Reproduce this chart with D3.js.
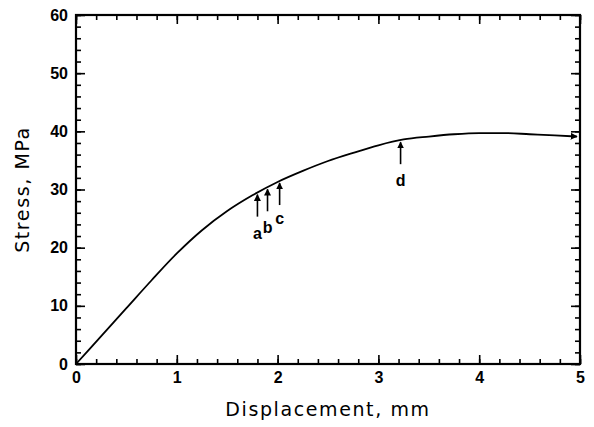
<!DOCTYPE html>
<html>
<head>
<meta charset="utf-8">
<script src="https://cdn.jsdelivr.net/npm/d3@7"></script>
<style>
  body { margin: 0; background: #fff; }
  .tick text { font-family: "Liberation Sans", Arial, sans-serif; font-size: 16px; font-weight: bold; fill: #000; }
  .axisTitle { font-family: "DejaVu Sans", sans-serif; font-size: 19px; letter-spacing: 1.6px; fill: #000; }
  .note { font-family: "Liberation Sans", Arial, sans-serif; font-size: 16px; font-weight: bold; fill: #000; }
</style>
</head>
<body>
<div id="chart"></div>
<script>
// curve
var displacement = [0, 0.25, 0.5, 0.75, 1.0, 1.25, 1.5, 1.75, 2.0, 2.25, 2.5, 2.75, 3.0, 3.25, 3.5, 3.75, 4.0, 4.25, 4.5, 4.75, 4.97];
var stress = [0, 4.8, 9.6, 14.4, 19.0, 23.0, 26.3, 29.0, 31.3, 33.2, 34.9, 36.3, 37.6, 38.6, 39.1, 39.5, 39.7, 39.7, 39.5, 39.3, 39.1];

// marked points a-d
var markLabels = ["a", "b", "c", "d"];
var markX = [1.8, 1.9, 2.02, 3.22];

var xTicks = [0, 1, 2, 3, 4, 5];
var yTicks = [0, 10, 20, 30, 40, 50, 60];

var svgWidth = 594;
var svgHeight = 427;

var margin = { top: 15, right: 14, bottom: 63, left: 76 };
var width = svgWidth - margin.left - margin.right;
var height = svgHeight - margin.top - margin.bottom;

var svg = d3.select("#chart")
  .append("svg")
  .attr("width", svgWidth)
  .attr("height", svgHeight);

svg.append("defs").append("marker")
  .attr("id", "head")
  .attr("viewBox", "0 0 10 10")
  .attr("refX", 9)
  .attr("refY", 5)
  .attr("markerWidth", 7)
  .attr("markerHeight", 7)
  .attr("markerUnits", "userSpaceOnUse")
  .attr("orient", "auto")
  .append("path")
  .attr("d", "M0,0 L10,5 L0,10 z")
  .attr("fill", "#000");

var chartGroup = svg.append("g")
  .attr("transform", `translate(${margin.left}, ${margin.top})`);

var x = d3.scaleLinear().domain([0, 5]).range([0, width]);
var y = d3.scaleLinear().domain([0, 60]).range([height, 0]);

var xMinor = d3.range(0, 5.001, 0.2);
var yMinor = d3.range(0, 60.001, 2);

// minor ticks all round
chartGroup.append("g").attr("transform", `translate(0, ${height})`)
  .call(d3.axisBottom(x).tickValues(xMinor).tickSize(-5).tickFormat(""));
chartGroup.append("g")
  .call(d3.axisTop(x).tickValues(xMinor).tickSize(-5).tickFormat(""));
chartGroup.append("g")
  .call(d3.axisLeft(y).tickValues(yMinor).tickSize(-5).tickFormat(""));
chartGroup.append("g").attr("transform", `translate(${width}, 0)`)
  .call(d3.axisRight(y).tickValues(yMinor).tickSize(-5).tickFormat(""));

// major ticks
chartGroup.append("g").attr("transform", `translate(0, ${height})`)
  .call(d3.axisBottom(x).tickValues(xTicks).tickSize(-9).tickPadding(8).tickFormat(d3.format("d")));
chartGroup.append("g")
  .call(d3.axisTop(x).tickValues(xTicks).tickSize(-9).tickFormat(""));
chartGroup.append("g")
  .call(d3.axisLeft(y).tickValues(yTicks).tickSize(-9).tickPadding(8).tickFormat(d3.format("d")));
chartGroup.append("g").attr("transform", `translate(${width}, 0)`)
  .call(d3.axisRight(y).tickValues(yTicks).tickSize(-9).tickFormat(""));

chartGroup.selectAll(".domain").remove();
chartGroup.selectAll(".tick line").attr("stroke", "#000").attr("stroke-width", 1.6);

// frame
chartGroup.append("rect")
  .attr("width", width)
  .attr("height", height)
  .attr("fill", "none")
  .attr("stroke", "#000")
  .attr("stroke-width", 2.2);

// curve
var pts = displacement.map(function(d, i) { return [d, stress[i]]; });
var line = d3.line()
  .x(d => x(d[0]))
  .y(d => y(d[1]))
  .curve(d3.curveMonotoneX);

chartGroup.append("path")
  .datum(pts)
  .attr("d", line)
  .attr("fill", "none")
  .attr("stroke", "#000")
  .attr("stroke-width", 1.8)
  .attr("marker-end", "url(#head)");

// arrows a-d pointing up to the curve
var interp = d3.scaleLinear().domain(displacement).range(stress);
var labelGap = [22, 22, 19, 22];

markX.forEach(function(m, i) {
  var top = y(interp(m)) + 2;
  chartGroup.append("line")
    .attr("x1", x(m)).attr("x2", x(m))
    .attr("y1", top + 22).attr("y2", top)
    .attr("stroke", "#000")
    .attr("stroke-width", 1.6)
    .attr("marker-end", "url(#head)");
  chartGroup.append("text")
    .attr("class", "note")
    .attr("x", x(m))
    .attr("y", top + 22 + labelGap[i])
    .attr("text-anchor", "middle")
    .text(markLabels[i]);
});

// axis titles
chartGroup.append("text")
  .attr("class", "axisTitle")
  .attr("transform", "rotate(-90)")
  .attr("x", 0 - height / 2)
  .attr("y", 0 - margin.left + 29)
  .attr("text-anchor", "middle")
  .text("Stress, MPa");

chartGroup.append("text")
  .attr("class", "axisTitle")
  .attr("x", width / 2)
  .attr("y", height + 52)
  .attr("text-anchor", "middle")
  .text("Displacement, mm");
</script>
</body>
</html>
